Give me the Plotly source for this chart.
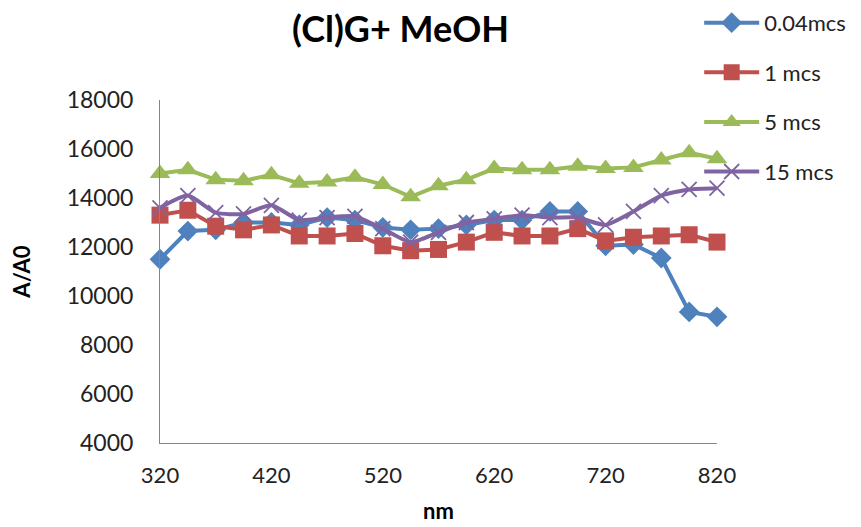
import plotly.graph_objects as go

wavelength = [320, 345, 370, 395, 420, 445, 470, 495, 520, 545, 570,
              595, 620, 645, 670, 695, 720, 745, 770, 795, 820]

s_004 = [11500, 12650, 12700, 13000, 13000, 12900, 13200, 13100, 12800, 12700, 12750,
         12900, 13100, 13100, 13450, 13450, 12050, 12100, 11550, 9350, 9150]
s_1 = [13300, 13500, 12850, 12700, 12900, 12450, 12450, 12550, 12050, 11850, 11900,
       12200, 12600, 12450, 12450, 12750, 12250, 12400, 12450, 12500, 12200]
s_5 = [15000, 15150, 14750, 14700, 14950, 14600, 14650, 14850, 14550, 14050, 14500,
       14750, 15200, 15150, 15150, 15300, 15200, 15250, 15550, 15850, 15600]
s_15 = [13600, 14100, 13400, 13350, 13700, 13100, 13200, 13250, 12750, 12200, 12600,
        13000, 13150, 13300, 13200, 13200, 12900, 13450, 14100, 14350, 14400]

x_ticks = [320, 420, 520, 620, 720, 820]
y_ticks = [4000, 6000, 8000, 10000, 12000, 14000, 16000, 18000]
title_text = "(Cl)G+ MeOH"

names = ["0.04mcs", "1 mcs", "5 mcs", "15 mcs"]
series = [s_004, s_1, s_5, s_15]
colors = ["#4F81BD", "#C0504D", "#9BBB59", "#8064A2"]
symbols = ["diamond", "square", "triangle-up", "x-thin"]
sizes = [16, 17, 18, 15]
shapes = ["linear", "linear", "linear", "spline"]

FONT = "Lato, Carlito, Liberation Sans, sans-serif"

fig = go.Figure()
for i, (nm, ys) in enumerate(zip(names, series)):
    marker = dict(symbol=symbols[i], size=sizes[i], color=colors[i])
    if symbols[i] == "x-thin":
        marker["line"] = dict(color=colors[i], width=1.8)
    else:
        marker["line"] = dict(width=0)
    fig.add_trace(go.Scatter(
        x=wavelength, y=ys, name=nm, mode="lines+markers",
        line=dict(color=colors[i], width=4, shape=shapes[i], smoothing=0.6),
        marker=marker, cliponaxis=False, legendgroup=nm,
    ))

fig.add_annotation(
    text="<b>" + title_text + "</b>", xref="paper", yref="paper",
    x=(392 - 152) / 557, y=1 + (92 - 20) / 343, xanchor="center", yanchor="middle",
    showarrow=False, font=dict(family=FONT, size=36, color="#000000"),
)

fig.update_layout(
    width=861, height=527,
    margin=dict(l=152, r=152, t=92, b=92, autoexpand=False),
    paper_bgcolor="white", plot_bgcolor="white",
    font=dict(family=FONT, size=22, color="#222222"),
    showlegend=True,
    legend=dict(x=0.968, xanchor="left", y=1.286, yanchor="top",
                bgcolor="rgba(0,0,0,0)", tracegroupgap=18,
                font=dict(family=FONT, size=22, color="#222222"),
                itemwidth=55),
    xaxis=dict(range=[320, 820], tickvals=x_ticks, ticktext=[str(v) for v in x_ticks],
               showgrid=False, zeroline=False, showline=True,
               linecolor="#868686", linewidth=1, ticks="",
               ticklabelstandoff=13,
               title=dict(text="<b>nm</b>", standoff=16,
                          font=dict(family=FONT, size=22, color="#000000"))),
    yaxis=dict(range=[4000, 18000], tickvals=y_ticks, ticktext=[str(v) for v in y_ticks],
               showgrid=False, zeroline=False, showline=True,
               linecolor="#868686", linewidth=1, ticks="",
               ticklabelstandoff=21, tickfont=dict(size=23),
               title=dict(text="<b>A/A0</b>", standoff=34,
                          font=dict(family=FONT, size=22, color="#000000"))),
)

fig.write_html("out.html")
